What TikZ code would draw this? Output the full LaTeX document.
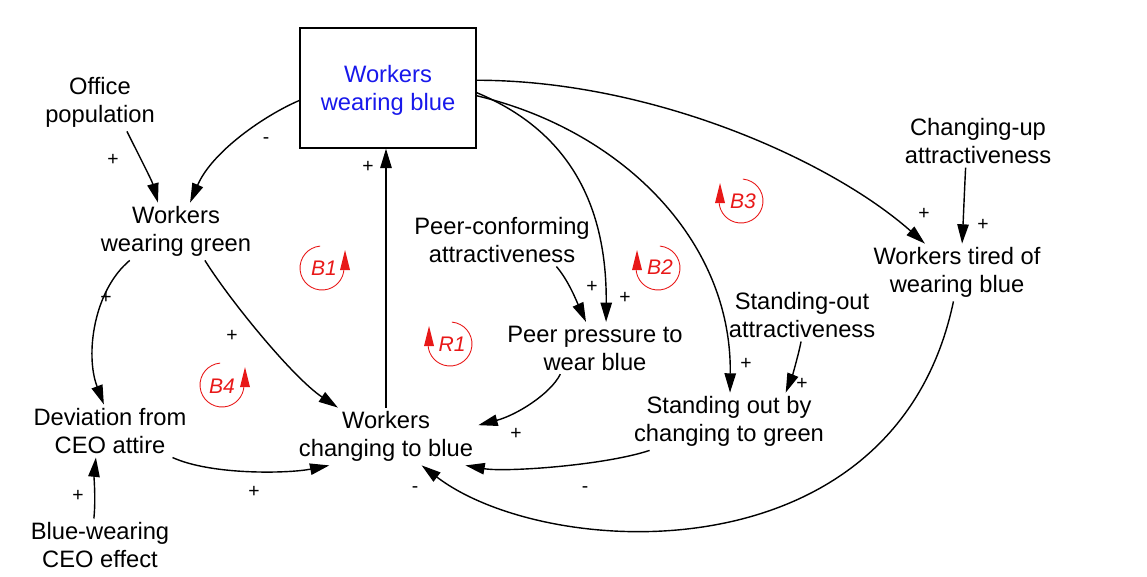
\documentclass[tikz,border=0pt]{standalone}
\usepackage{fontspec}
\setmainfont{Liberation Sans}
\usetikzlibrary{arrows.meta}
\definecolor{loopred}{RGB}{232,24,24}
\definecolor{stockblue}{RGB}{24,24,235}
\begin{document}
\begin{tikzpicture}[x=0.02cm,y=-0.02cm,
  var/.style={align=center,font=\fontsize{13.5}{15.9}\selectfont,inner xsep=2.8pt,inner ysep=2pt},
  stockbox/.style={draw,line width=0.8pt,minimum width=3.52cm,minimum height=2.4cm,align=center,text=stockblue,font=\fontsize{13.5}{15.9}\selectfont,text depth=0pt},
  sign/.style={font=\fontsize{11}{13}\selectfont,inner sep=0pt},
  link/.style={line width=0.8pt,-{Triangle[length=11pt,width=6.5pt]}},
  looparc/.style={draw=loopred,line width=0.5pt},
  loophead/.style={fill=loopred},
  looptxt/.style={text=loopred,font=\fontsize{12}{14}\selectfont\itshape,inner sep=0pt}]
\useasboundingbox (0,0) rectangle (1147,576);

% variables
\node[stockbox] (wb) at (388,88) {Workers\\wearing blue};
\node[var] (op) at (100,102.5) {Office\\population};
\node[var] (wg) at (176,231.5) {Workers\\wearing green};
\node[var] (cu) at (978,141) {Changing-up\\attractiveness};
\node[var] (pc) at (502,240) {Peer-conforming\\attractiveness};
\node[var] (wt) at (957,272.5) {Workers tired of\\wearing blue};
\node[var] (so) at (802,315) {Standing-out\\attractiveness};
\node[var] (pp) at (595,348) {Peer pressure to\\wear blue};
\node[var] (sg) at (729,421.5) {Standing out by\\changing to green};
\node[var] (dev) at (110,431) {Deviation from\\CEO attire};
\node[var] (wc) at (386,436.5) {Workers\\changing to blue};
\node[var] (ceo) at (100,545) {Blue-wearing\\CEO effect};

% links
\draw[link] (wb.188) .. controls +(-35,15) and +(22,-51) .. (wg.64);
\draw[link] (op.-47) .. controls +(10,20) and +(-6,-22) .. (wg.122);
\draw[link] (wg.212) .. controls +(-36,30) and +(-19,-50) .. (dev.103);
\draw[link] (wg.-45) .. controls +(25,40) and +(-45,-30) .. (wc.149);
\draw[link] (wc.north) -- (wc.north |- wb.south);
\draw[link] (ceo.103) .. controls +(2,-20) and +(-2,20) .. (dev.242);
\draw[link] (dev.-23) .. controls +(40,18) and +(-40,8) .. (wc.207);
\draw[link] (wb.-3) .. controls +(84,35) and +(1,-127) .. (pp.67);
\draw[link] (pc.-26) .. controls +(12,14) and +(-10,-22) .. (pp.109);
\draw[link] (pp.217) .. controls +(-10,20) and +(38,-10) .. (wc.7);
\draw[link] (wb.-5) .. controls +(144,34) and +(2,-153) .. (sg.88);
\draw[link] (so.268) .. controls +(-3,15) and +(6,-15) .. (sg.27);
\draw[link] (sg.200) .. controls +(-45,15) and +(40,7) .. (wc.-20);
\draw[link] (wb.5) .. controls +(174,0) and +(-95,-84) .. (wt.138);
\draw[link] (cu.245) .. controls +(-1,20) and +(1,-20) .. (wt.80);
\draw[link] (wt.263) .. controls +(-58.5,279) and +(124,95) .. (wc.-39);

% polarity signs
\node[sign] (s1) at (266,141) {-};
\node[sign] (s2) at (113,160) {+};
\node[sign] (s3) at (106,298) {+};
\node[sign] (s4) at (232,336) {+};
\node[sign] (s5) at (368,167) {+};
\node[sign] (s6) at (78,496) {+};
\node[sign] (s7) at (254,492) {+};
\node[sign] (s8) at (625,298) {+};
\node[sign] (s9) at (592,287) {+};
\node[sign] (s10) at (516,434) {+};
\node[sign] (s11) at (746,364) {+};
\node[sign] (s12) at (802,384) {+};
\node[sign] (s13) at (585,490) {-};
\node[sign] (s14) at (924,214) {+};
\node[sign] (s15) at (983,225) {+};
\node[sign] (s16) at (415,490) {-};

% loop markers (counter-clockwise: B1, B4; clockwise: R1, B2, B3)
\begin{scope}[shift={(322,268)},x=1cm,y=1cm]
  \draw[looparc] (95:0.44) arc[start angle=95,end angle=360,radius=0.44];
\end{scope}
\fill[loophead] (340,270) -- (350,270) -- (345,250) -- cycle;
\node[looptxt] (l1) at (324,268) {B1};
\begin{scope}[shift={(222,385)},x=1cm,y=1cm]
  \draw[looparc] (95:0.44) arc[start angle=95,end angle=360,radius=0.44];
\end{scope}
\fill[loophead] (240,387) -- (250,387) -- (245,367) -- cycle;
\node[looptxt] (l4) at (222,386) {B4};
\begin{scope}[shift={(450,344)},x=1cm,y=1cm]
  \draw[looparc] (85:0.44) arc[start angle=85,end angle=-180,radius=0.44];
\end{scope}
\fill[loophead] (424,346) -- (434,346) -- (429,326) -- cycle;
\node[looptxt] (l5) at (452,344) {R1};
\begin{scope}[shift={(658,268)},x=1cm,y=1cm]
  \draw[looparc] (85:0.44) arc[start angle=85,end angle=-180,radius=0.44];
\end{scope}
\fill[loophead] (632,270) -- (642,270) -- (637,250) -- cycle;
\node[looptxt] (l2) at (660,267) {B2};
\begin{scope}[shift={(741,201)},x=1cm,y=1cm]
  \draw[looparc] (85:0.44) arc[start angle=85,end angle=-180,radius=0.44];
\end{scope}
\fill[loophead] (715,203) -- (725,203) -- (720,183) -- cycle;
\node[looptxt] (l3) at (743,201) {B3};
\end{tikzpicture}
\end{document}
